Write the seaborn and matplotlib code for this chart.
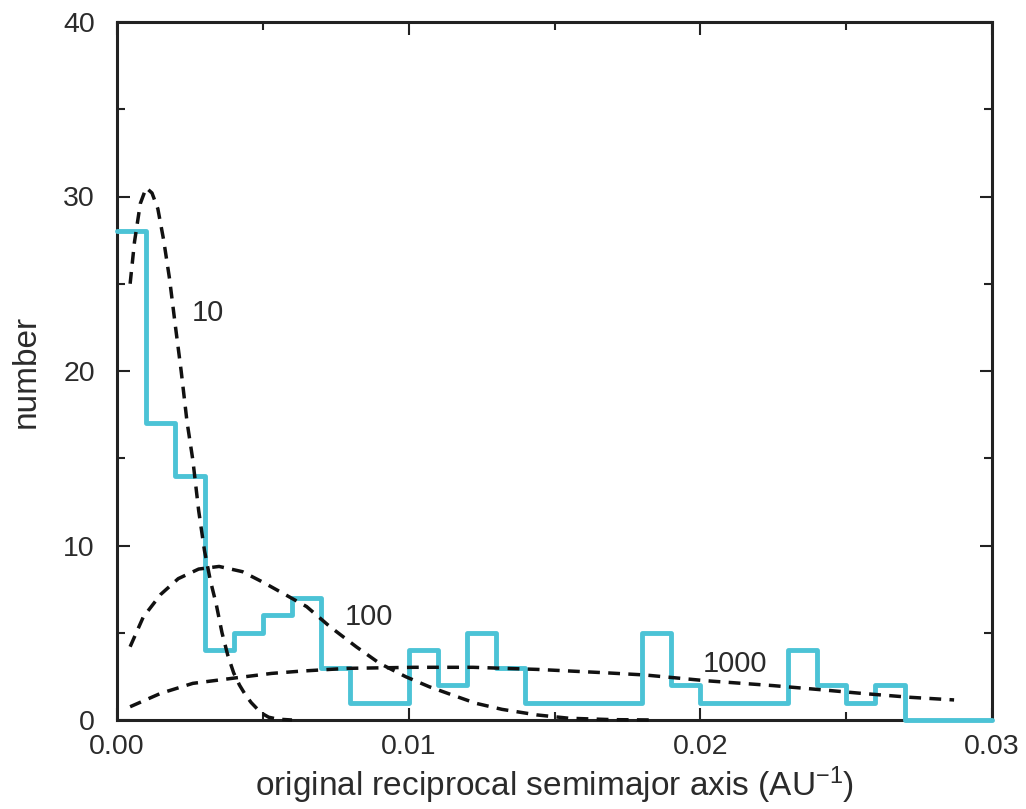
import numpy as np
import pandas as pd
import matplotlib
matplotlib.use("Agg")
import matplotlib.pyplot as plt
from matplotlib.ticker import MultipleLocator, FormatStrFormatter
import seaborn as sns

# ---------------- data ----------------
bin_width = 0.001
counts = [28, 17, 14, 4, 5, 6, 7, 3, 1, 1, 4, 2, 5, 3, 1, 1, 1, 1,
          5, 2, 1, 1, 1, 4, 2, 1, 2, 0, 0, 0]

c10_x = [0.00045, 0.0006, 0.0008, 0.0010, 0.0012, 0.0014, 0.0016, 0.0018,
         0.0020, 0.0022, 0.0024, 0.0026, 0.0028, 0.0030, 0.0032, 0.0034,
         0.0036, 0.0038, 0.0040, 0.0042, 0.0044, 0.0046, 0.0048, 0.0050,
         0.0052, 0.0055, 0.0060]
c10_y = [25.0, 27.4, 29.6, 30.5, 30.2, 29.3, 27.5, 25.3,
         22.6, 20.0, 17.1, 14.9, 12.0, 9.7, 8.0, 6.65,
         5.0, 3.7, 2.7, 2.0, 1.45, 1.0, 0.65, 0.35,
         0.16, 0.05, 0.0]

c100_x = [0.00045, 0.0009, 0.0015, 0.0021, 0.0028, 0.0035, 0.0043, 0.0050,
          0.0057, 0.0065, 0.0073, 0.0082, 0.0090, 0.0099, 0.0107, 0.0115,
          0.0123, 0.0132, 0.0144, 0.0155, 0.0170, 0.0185]
c100_y = [4.2, 5.9, 7.2, 8.1, 8.65, 8.8, 8.5, 7.9,
          7.25, 6.5, 5.35, 4.2, 3.25, 2.48, 1.91, 1.43,
          0.96, 0.61, 0.29, 0.10, 0.02, 0.0]

c1000_x = [0.00045, 0.0015, 0.0026, 0.0041, 0.0053, 0.0063, 0.0079, 0.0102,
           0.0122, 0.0144, 0.0167, 0.0181, 0.0202, 0.0225, 0.0241, 0.0255,
           0.0272, 0.0287]
c1000_y = [0.76, 1.53, 2.1, 2.42, 2.67, 2.8, 2.96, 3.02,
           3.02, 2.9, 2.71, 2.58, 2.25, 1.97, 1.74, 1.53,
           1.3, 1.15]

curve_labels = ["10", "100", "1000"]
label_pos = [(0.0031, 23.3), (0.00864, 5.92), (0.0212, 3.2)]

xticks = [0.00, 0.01, 0.02, 0.03]
yticks = [0, 10, 20, 30, 40]
xlabel = "original reciprocal semimajor axis (AU$^{\\mathregular{-1}}$)"
ylabel = "number"

# ---------------- style ----------------
sns.set_style("ticks")
plt.rcParams["font.family"] = ["Liberation Sans", "DejaVu Sans"]
plt.rcParams["mathtext.fontset"] = "custom"
plt.rcParams["mathtext.rm"] = "Liberation Sans"
plt.rcParams["mathtext.it"] = "Liberation Sans:italic"
plt.rcParams["mathtext.bf"] = "Liberation Sans:bold"

text_color = "#2b2b2b"
cyan = "#4cc3d6"

fig = plt.figure(figsize=(10.26, 8.09), dpi=100)
ax = fig.add_axes([117 / 1026, 89 / 809, 875 / 1026, 698 / 809])

# histogram as step line
edges = np.round(np.arange(len(counts) + 1) * bin_width, 4)
hist_df = pd.DataFrame({"x": edges, "y": counts + [counts[-1]]})
sns.lineplot(data=hist_df, x="x", y="y", ax=ax, color=cyan, lw=3.5,
             drawstyle="steps-post", clip_on=False, zorder=3)

dash = (0, (3.4, 2.4))
for cx, cy in [(c10_x, c10_y), (c100_x, c100_y), (c1000_x, c1000_y)]:
    df = pd.DataFrame({"x": cx, "y": cy})
    sns.lineplot(data=df, x="x", y="y", ax=ax, color="#111111", lw=2.5,
                 linestyle=dash, zorder=4, clip_on=False)

for lab, (lx, ly) in zip(curve_labels, label_pos):
    ax.text(lx, ly, lab, ha="center", va="center", fontsize=21,
            color=text_color, zorder=5)

ax.set_xlim(0, 0.03)
ax.set_ylim(0, 40)
ax.set_xticks(xticks)
ax.set_yticks(yticks)
ax.xaxis.set_major_formatter(FormatStrFormatter("%.2f"))
ax.xaxis.set_minor_locator(MultipleLocator(0.005))
ax.yaxis.set_minor_locator(MultipleLocator(5))

ax.tick_params(which="both", direction="in", top=True, right=True,
               colors="#222222", labelcolor=text_color, labelsize=20.5)
ax.tick_params(which="major", length=9, width=1.5)
ax.tick_params(which="minor", length=5.5, width=1.5)
ax.tick_params(axis="y", which="major", pad=16)
ax.tick_params(axis="x", which="major", pad=10)

for sp in ax.spines.values():
    sp.set_visible(True)
    sp.set_linewidth(2.2)
    sp.set_color("#222222")

ax.set_xlabel(xlabel, fontsize=24, color=text_color, labelpad=3)
ax.set_ylabel(ylabel, fontsize=24, color=text_color, labelpad=15)

fig.savefig("out.png", dpi=100, facecolor="white")
